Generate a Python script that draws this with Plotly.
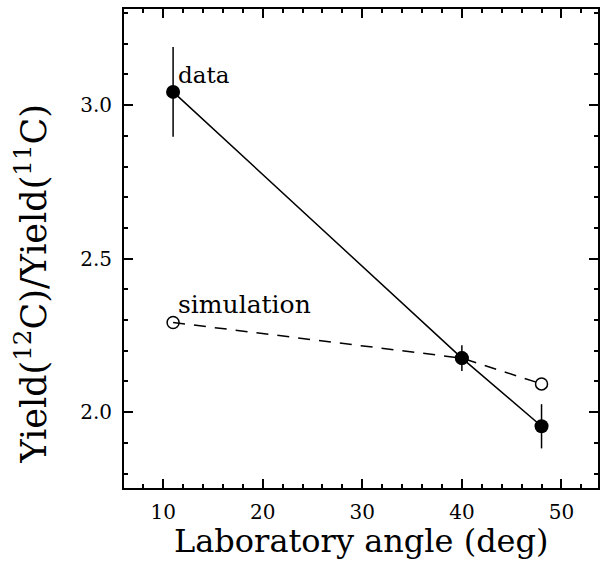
import plotly.graph_objects as go

angle = [11, 40, 48]
data_ratio = [3.043, 2.176, 1.954]
data_err = [0.146, 0.042, 0.072]
sim_ratio = [2.292, 2.176, 2.092]

FONT = "DejaVu Serif"

W, H = 600, 563
L, R, T, B = 124, 0, 9, 75
pw, ph = W - L - R, H - T - B

fig = go.Figure()
fig.add_trace(go.Scatter(
    x=angle, y=sim_ratio, mode="lines+markers",
    line=dict(color="black", width=1.5, dash="12px,9px"),
    marker=dict(symbol="circle-open", size=12, color="black", line=dict(width=1.5)),
    showlegend=False))
fig.add_trace(go.Scatter(
    x=angle, y=data_ratio, mode="lines+markers",
    line=dict(color="black", width=1.5),
    marker=dict(symbol="circle", size=14, color="black"),
    error_y=dict(type="data", array=data_err, visible=True, color="black", thickness=1.5, width=0),
    showlegend=False))

axis_common = dict(
    showline=True, linecolor="black", linewidth=2, mirror="ticks",
    ticks="inside", ticklen=9, tickwidth=1.5, tickcolor="black",
    showgrid=False, zeroline=False,
    tickfont=dict(family=FONT, size=20, color="black"),
)
fig.update_xaxes(range=[6.07, 53.67], tickvals=[10, 20, 30, 40, 50],
                 minor=dict(dtick=2, tick0=0, ticks="inside", ticklen=4, tickwidth=1.5, tickcolor="black"),
                 ticklabelstandoff=5,
                 **axis_common)
fig.update_yaxes(range=[1.753, 3.313], tickvals=[2.0, 2.5, 3.0], ticktext=["2.0", "2.5", "3.0"],
                 minor=dict(dtick=0.1, tick0=0, ticks="inside", ticklen=4, tickwidth=1.5, tickcolor="black"),
                 ticklabelstandoff=6,
                 **axis_common)

fig.add_annotation(x=11, y=3.043, xref="x", yref="y", text="data", showarrow=False,
                   xanchor="left", yanchor="bottom", xshift=3, yshift=2,
                   font=dict(family=FONT, size=23, color="black"))
fig.add_annotation(x=11, y=2.292, xref="x", yref="y", text="simulation", showarrow=False,
                   xanchor="left", yanchor="bottom", xshift=3, yshift=2,
                   font=dict(family=FONT, size=25, color="black"))

fig.add_annotation(x=(362 - L) / pw, y=-(541 - 488) / ph, xref="paper", yref="paper",
                   xanchor="center", yanchor="middle",
                   text="Laboratory angle (deg)", showarrow=False,
                   font=dict(family=FONT, size=32, color="black"))
fig.add_annotation(x=-(L - 31) / pw, y=(488 - 284) / ph, xref="paper", yref="paper",
                   xanchor="center", yanchor="middle",
                   text="Yield(<sup>12</sup>C)/Yield(<sup>11</sup>C)", textangle=-90,
                   showarrow=False, font=dict(family=FONT, size=35, color="black"))

fig.update_layout(width=W, height=H, margin=dict(l=L, r=R, t=T, b=B),
                  paper_bgcolor="white", plot_bgcolor="white")
fig.write_html("out.html")
